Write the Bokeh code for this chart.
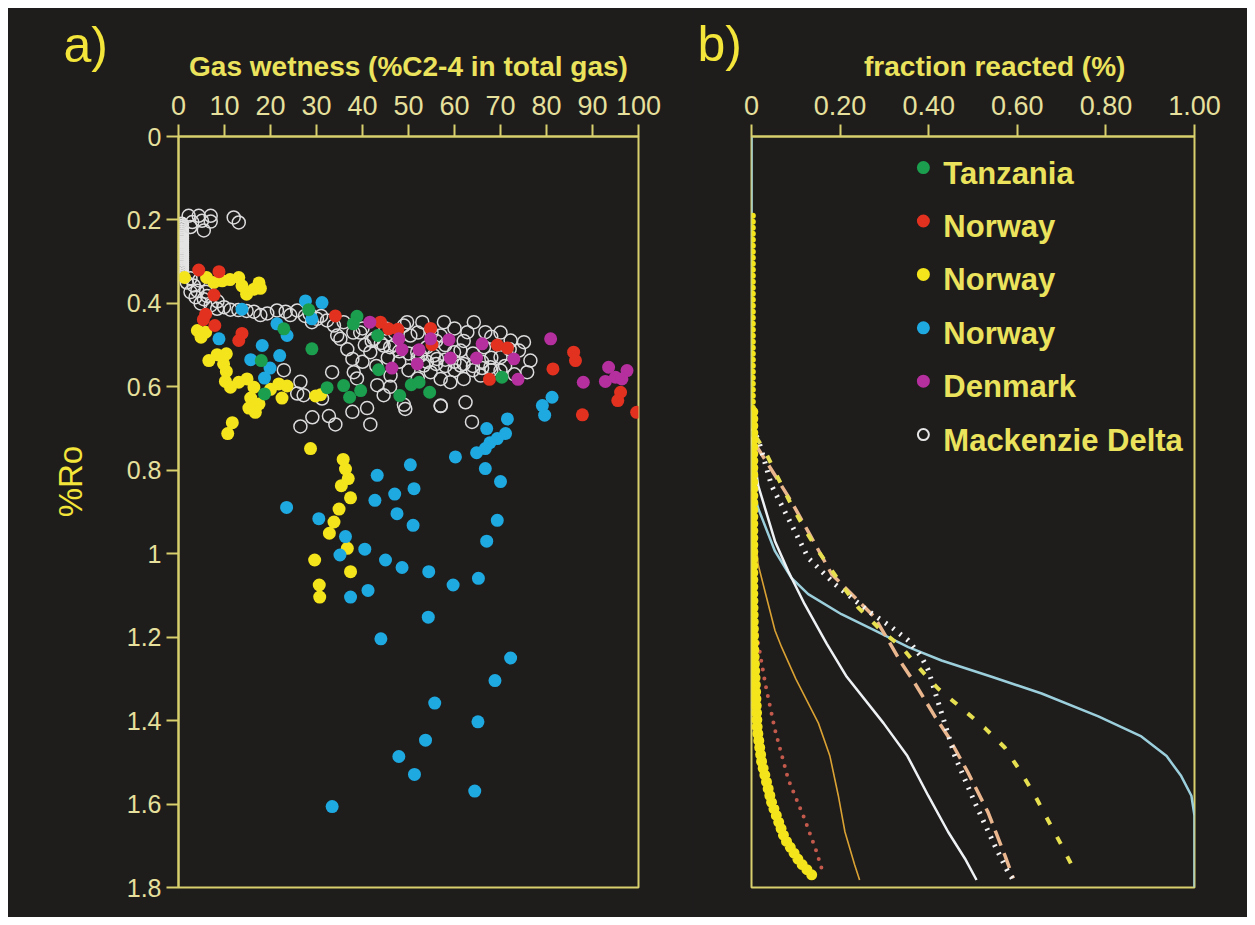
from bokeh.plotting import figure
from bokeh.models import Range1d, FixedTicker, Label
from bokeh.layouts import row
from bokeh.embed import file_html
from bokeh.resources import INLINE
from bokeh.core.properties import value
import math

# ---------------- data: panel a (gas wetness vs %Ro) ----------------
x_ticks_a = [0, 10, 20, 30, 40, 50, 60, 70, 80, 90, 100]
y_ticks = [0, 0.2, 0.4, 0.6, 0.8, 1.0, 1.2, 1.4, 1.6, 1.8]
y_tick_labels = ["0", "0.2", "0.4", "0.6", "0.8", "1", "1.2", "1.4", "1.6", "1.8"]

mack_x = [2.2, 4.4, 7.0, 3.0, 5.1, 7.0, 5.5, 12.0, 13.1, 2.6,
          1.8, 2.6, 4.5, 3.3, 2.6, 4.1, 6.0, 3.7, 5.5, 6.2, 4.8, 7.0, 8.5, 8.4, 9.9, 11.3, 13.0, 14.8,
          16.4, 17.8, 19.3, 21.4, 23.3, 24.3, 25.8, 27.5, 28.5, 31.0, 29.0, 30.1, 32.3, 33.8, 35.9, 34.5, 35.2,
          36.7, 37.8, 33.4, 38.1, 38.8, 22.9, 26.5, 25.8, 27.2, 31.2, 32.7, 26.5, 29.1, 34.1, 37.8, 41.0,
          41.7, 43.2, 44.6, 49.0, 57.0, 46.1, 41.7, 42.5, 44.6, 49.0, 50.4, 51.9, 53.3, 56.2, 57.7, 57.0,
          59.9, 61.3, 62.0, 59.1, 49.7, 53.0, 64.2, 66.7, 62.8, 72.2, 75.1, 74.0, 76.5, 75.8, 70.0, 67.8,
          70.0, 65.7, 57.0, 54.8, 62.4, 57.0, 63.8, 49.3, 52.6, 55.5, 61.3, 66.4, 39.5, 40.5, 45.5, 47.0,
          48.0, 50.0, 52.0, 46.0, 43.0, 40.0, 60.0, 62.0, 64.0, 68.0, 70.0, 72.0, 68.0, 66.0, 58.0, 56.0,
          54.0, 64.0, 60.0, 58.0, 71.0, 73.0, 42.0, 44.0, 46.0, 48.0, 50.0, 52.0, 54.0, 56.0, 58.0, 60.0,
          62.0, 64.0, 66.0, 68.0, 38.0, 40.0, 45.0, 47.0, 52.0, 55.0]
mack_y = [0.190, 0.190, 0.190, 0.205, 0.202, 0.204, 0.225, 0.194, 0.206, 0.217,
          0.350, 0.340, 0.345, 0.357, 0.373, 0.370, 0.372, 0.385, 0.390, 0.382, 0.400, 0.405, 0.395, 0.413,
          0.409, 0.415, 0.416, 0.418, 0.420, 0.428, 0.424, 0.417, 0.420, 0.428, 0.417, 0.430, 0.425, 0.430,
          0.445, 0.437, 0.441, 0.453, 0.445, 0.477, 0.485,
          0.510, 0.533, 0.565, 0.565, 0.580, 0.560, 0.588, 0.616, 0.620, 0.628, 0.670, 0.695, 0.673, 0.690,
          0.660, 0.651, 0.690, 0.596, 0.620, 0.643, 0.646, 0.573, 0.517, 0.485, 0.501, 0.453, 0.477, 0.517,
          0.549, 0.533, 0.445, 0.477, 0.517, 0.549, 0.581, 0.589, 0.445, 0.445, 0.445, 0.469, 0.469, 0.489,
          0.493, 0.513, 0.537, 0.565, 0.529, 0.553, 0.561, 0.573, 0.581, 0.565, 0.637, 0.645, 0.684, 0.653,
          0.525, 0.525, 0.513, 0.505, 0.470, 0.500, 0.530, 0.500, 0.540, 0.560, 0.580, 0.600, 0.550, 0.540,
          0.460, 0.490, 0.520, 0.480, 0.470, 0.510, 0.530, 0.540, 0.500, 0.490, 0.505, 0.560, 0.560, 0.550,
          0.550, 0.570, 0.490, 0.495, 0.505, 0.515, 0.520, 0.530, 0.540, 0.545, 0.535, 0.540, 0.545, 0.550,
          0.555, 0.560, 0.470, 0.460, 0.460, 0.470, 0.470, 0.470]
# stacked Mackenzie Delta samples near 0 % wetness
mack_stack_x = [0.7] * 23
mack_stack_y = [0.210, 0.215, 0.220, 0.225, 0.230, 0.235, 0.240, 0.245, 0.250, 0.255, 0.260, 0.265,
                0.270, 0.275, 0.280, 0.285, 0.290, 0.295, 0.300, 0.305, 0.310, 0.315, 0.320]

nor_yellow_x = [1.3, 6.1, 7.7, 9.5, 11.2, 13.1, 13.8, 14.8, 16.4, 17.5, 17.8,
                4.1, 5.9, 4.9, 6.6, 8.4, 10.4, 9.8, 10.4, 10.2, 11.3, 13.1, 14.9, 16.4, 15.7, 17.5, 15.3,
                16.7, 20.0, 21.8, 23.6, 22.5, 29.8, 30.9, 11.7, 10.7,
                28.7, 35.8, 36.3, 36.9, 35.4, 37.4, 34.9, 33.8, 32.8, 36.7, 29.6, 37.4, 30.6, 30.7]
nor_yellow_y = [0.338, 0.338, 0.350, 0.346, 0.343, 0.338, 0.358, 0.378, 0.366, 0.351, 0.364,
                0.465, 0.469, 0.481, 0.537, 0.523, 0.521, 0.545, 0.563, 0.587, 0.601, 0.589, 0.581, 0.601,
                0.627, 0.641, 0.651, 0.661, 0.606, 0.593, 0.598, 0.627, 0.622, 0.619, 0.686, 0.712,
                0.748, 0.774, 0.797, 0.820, 0.837, 0.866, 0.893, 0.924, 0.951, 0.987, 1.015, 1.043, 1.075, 1.104]

nor_red_x = [4.4, 8.8, 7.7, 5.9, 5.4, 7.9, 13.8, 13.1, 34.1, 43.9, 45.7, 47.7, 54.8, 55.1, 69.3, 71.5,
             67.6, 85.9, 86.3, 81.4, 96.1, 95.5, 87.8, 99.6]
nor_red_y = [0.320, 0.324, 0.380, 0.426, 0.439, 0.453, 0.472, 0.489, 0.430, 0.445, 0.461, 0.462, 0.460,
             0.499, 0.500, 0.507, 0.582, 0.517, 0.537, 0.557, 0.613, 0.633, 0.667, 0.661]

nor_blue_x = [27.6, 31.2, 13.8, 29.0, 21.4, 23.6, 8.8, 18.2, 22.0, 15.7, 19.9, 18.7,
              81.2, 79.1, 79.6, 71.5, 67.0, 71.1, 69.3, 67.7, 66.7, 64.8, 60.2,
              66.7, 70.0, 69.3, 67.0,
              23.5, 30.5, 36.3, 35.1, 40.5, 37.4, 41.2, 43.2, 42.7, 47.0, 50.4, 51.2, 47.5, 51.0, 45.0,
              48.6, 54.4, 59.7, 65.2,
              54.3, 44.0, 72.2, 68.8, 55.7, 65.1, 53.7, 47.9, 51.3, 64.4, 33.4]
nor_blue_y = [0.394, 0.398, 0.414, 0.437, 0.449, 0.477, 0.485, 0.501, 0.525, 0.535, 0.555, 0.579,
              0.625, 0.645, 0.668, 0.677, 0.700, 0.712, 0.724, 0.734, 0.748, 0.758, 0.768,
              0.796, 0.827, 0.920, 0.970,
              0.889, 0.916, 0.959, 1.003, 0.989, 1.104, 1.088, 0.812, 0.872, 0.857, 0.787, 0.844, 0.904,
              0.932, 1.015, 1.033, 1.043, 1.075, 1.059,
              1.152, 1.204, 1.250, 1.304, 1.358, 1.403, 1.447, 1.486, 1.529, 1.569, 1.606]

tanz_x = [28.3, 29.0, 38.8, 38.0, 18.0, 22.9, 43.3, 43.5, 18.7, 32.3, 35.9, 37.2, 39.6, 48.1, 50.6,
          52.3, 54.6, 70.3]
tanz_y = [0.415, 0.509, 0.431, 0.449, 0.537, 0.461, 0.477, 0.559, 0.617, 0.602, 0.597, 0.625, 0.609,
          0.621, 0.595, 0.589, 0.613, 0.577]

den_x = [41.6, 47.9, 48.6, 52.3, 54.8, 58.8, 59.1, 64.8, 51.9, 46.4, 66.0, 72.9, 73.8, 80.9, 88.0,
         93.5, 97.5, 92.8, 95.0, 96.4]
den_y = [0.445, 0.485, 0.511, 0.511, 0.485, 0.487, 0.531, 0.531, 0.545, 0.555, 0.497, 0.533, 0.582,
         0.485, 0.589, 0.553, 0.561, 0.587, 0.577, 0.581]

# ---------------- data: panel b (fraction reacted vs %Ro) ----------------
x_ticks_b = [0, 0.2, 0.4, 0.6, 0.8, 1.0]
x_tick_labels_b = ["0", "0.20", "0.40", "0.60", "0.80", "1.00"]

legend_names = ["Tanzania", "Norway", "Norway", "Norway", "Denmark", "Mackenzie Delta"]
legend_colors = ["#1b9e4e", "#e2321f", "#f3e41c", "#1ea9e1", "#b52f9e", None]

lblue_f = [0.0, 0.0, 0.005, 0.015, 0.053, 0.090, 0.128, 0.203, 0.278, 0.354, 0.429, 0.542, 0.655,
           0.783, 0.880, 0.937, 0.970, 0.993, 1.0, 1.0]
lblue_r = [0.0, 0.75, 0.85, 0.891, 0.994, 1.058, 1.097, 1.145, 1.184, 1.224, 1.256, 1.295, 1.335,
           1.390, 1.438, 1.485, 1.533, 1.580, 1.628, 1.8]

white_f = [0.0, 0.015, 0.053, 0.083, 0.120, 0.170, 0.215, 0.298, 0.352, 0.399, 0.444, 0.482, 0.508]
white_r = [0.72, 0.836, 0.970, 1.042, 1.121, 1.216, 1.295, 1.406, 1.485, 1.580, 1.667, 1.731, 1.782]

orange_f = [0.0, 0.015, 0.053, 0.068, 0.100, 0.151, 0.177, 0.196, 0.211, 0.233, 0.244]
orange_r = [0.85, 1.026, 1.184, 1.224, 1.300, 1.406, 1.485, 1.580, 1.667, 1.746, 1.782]

reddot_f = [0.005, 0.023, 0.034, 0.053, 0.083, 0.120, 0.147, 0.162]
reddot_r = [1.15, 1.263, 1.327, 1.422, 1.541, 1.636, 1.715, 1.767]

ydots_top_f = [0.003, 0.003, 0.003]
ydots_top_r = [0.19, 0.45, 0.66]
ydots_f = [0.003, 0.003, 0.003, 0.005, 0.013, 0.023, 0.045, 0.075, 0.109, 0.137]
ydots_r = [0.66, 0.90, 1.10, 1.224, 1.421, 1.500, 1.595, 1.683, 1.739, 1.771]

ydash_f = [0.01, 0.03, 0.068, 0.090, 0.128, 0.151, 0.203, 0.241, 0.293, 0.339, 0.376, 0.421, 0.474,
           0.527, 0.572, 0.609, 0.640, 0.670, 0.700, 0.735]
ydash_r = [0.72, 0.753, 0.836, 0.883, 0.955, 0.994, 1.073, 1.129, 1.184, 1.224, 1.271, 1.323, 1.370,
           1.418, 1.465, 1.525, 1.580, 1.640, 1.699, 1.772]

wdot_f = [0.0, 0.015, 0.045, 0.083, 0.128, 0.188, 0.263, 0.316, 0.354, 0.384, 0.399, 0.429, 0.459,
          0.504, 0.549, 0.579, 0.591]
wdot_r = [0.70, 0.725, 0.836, 0.915, 1.010, 1.073, 1.137, 1.176, 1.208, 1.248, 1.279, 1.382, 1.485,
          1.596, 1.699, 1.763, 1.782]

peach_f = [0.01, 0.053, 0.090, 0.128, 0.181, 0.278, 0.339, 0.369, 0.414, 0.444, 0.489, 0.534, 0.572, 0.591]
peach_r = [0.74, 0.812, 0.875, 0.947, 1.049, 1.152, 1.263, 1.311, 1.390, 1.438, 1.525, 1.620, 1.723, 1.778]

# ---------------- styles ----------------
BG = "#1f1c1c"
AX = "#d8d06c"
TICK_TXT = "#e6e09c"
TITLE_TXT = "#ece35c"
BRIGHT = "#f3e53a"
FONT = "Liberation Sans"


def style_axes(p, xsize, ysize):
    for ax in p.xaxis:
        ax.major_label_text_font_size = xsize
    for ax in p.yaxis:
        ax.major_label_text_font_size = ysize
    for ax in list(p.xaxis) + list(p.yaxis):
        ax.axis_line_color = AX
        ax.axis_line_width = 2
        ax.major_tick_line_color = AX
        ax.major_tick_line_width = 2
        ax.major_tick_out = 12
        ax.major_tick_in = 0
        ax.minor_tick_line_color = None
        ax.major_label_text_color = TICK_TXT
        ax.major_label_text_font = FONT
    p.xgrid.visible = False
    p.ygrid.visible = False
    p.background_fill_color = BG
    p.border_fill_color = BG
    p.outline_line_color = AX
    p.outline_line_width = 2


# ---------------- panel a ----------------
pa = figure(width=685, height=909, x_range=Range1d(0, 100), y_range=Range1d(1.8, 0),
            x_axis_location="above", output_backend="svg", toolbar_location=None,
            min_border_left=170, min_border_right=55, min_border_top=128, min_border_bottom=26)
style_axes(pa, "27px", "25px")
pa.xaxis.ticker = FixedTicker(ticks=x_ticks_a)
pa.yaxis.ticker = FixedTicker(ticks=y_ticks)
pa.yaxis.major_label_overrides = {t: l for t, l in zip(y_ticks, y_tick_labels)}
pa.yaxis.major_label_standoff = 5
pa.xaxis.major_label_standoff = 10
pa.xaxis.axis_label = "Gas wetness (%C2-4 in total gas)"
pa.xaxis.axis_label_text_font = FONT
pa.xaxis.axis_label_text_font_style = "bold"
pa.xaxis.axis_label_text_font_size = "28px"
pa.xaxis.axis_label_text_color = TITLE_TXT
pa.xaxis.axis_label_standoff = 11

MS = 13
pa.scatter(mack_stack_x, mack_stack_y, size=MS, fill_color=None, line_color="#e4e4e4", line_width=2)
pa.scatter(mack_x, mack_y, size=MS, fill_color=None, line_color="#dcdcdc", line_width=1.5)
pa.scatter(nor_yellow_x, nor_yellow_y, size=MS, fill_color=legend_colors[2], line_color=None)
pa.scatter(nor_red_x, nor_red_y, size=MS, fill_color=legend_colors[1], line_color=None)
pa.scatter(nor_blue_x, nor_blue_y, size=MS, fill_color=legend_colors[3], line_color=None)
pa.scatter(tanz_x, tanz_y, size=MS, fill_color=legend_colors[0], line_color=None)
pa.scatter(den_x, den_y, size=MS, fill_color=legend_colors[4], line_color=None)

# panel letter and y label, placed in side panels (not clipped), positioned in data units
pa.add_layout(Label(x=-25.0, y=-0.22, text="a)", text_font=FONT, text_font_size="50px",
                    text_color=BRIGHT, text_baseline="middle", text_align="left"), "right")
pa.add_layout(Label(x=-23.5, y=0.827, text="%Ro", text_font=FONT, text_font_size="33px",
                    text_color=BRIGHT, text_baseline="middle", text_align="center",
                    angle=math.pi / 2), "left")

# ---------------- panel b ----------------
pb = figure(width=554, height=909, x_range=Range1d(0, 1), y_range=Range1d(1.8, 0),
            x_axis_location="above", y_axis_location=None, output_backend="svg", toolbar_location=None,
            min_border_left=58, min_border_right=53, min_border_top=128, min_border_bottom=30)
style_axes(pb, "27px", "25px")
pb.xaxis.ticker = FixedTicker(ticks=x_ticks_b)
pb.xaxis.major_label_overrides = {t: l for t, l in zip(x_ticks_b, x_tick_labels_b)}
pb.xaxis.major_label_standoff = 10

pb.line(lblue_f, lblue_r, line_color="#9ccfdc", line_width=2.5)
pb.line(peach_f, peach_r, line_color="#eab68e", line_width=3.5, line_dash="16 8")
pb.line(wdot_f, wdot_r, line_color="#f4f4f4", line_width=5, line_dash="2 7")
pb.line(ydash_f, ydash_r, line_color="#e6e050", line_width=4, line_dash="8 14")
pb.line(white_f, white_r, line_color="#eef2f4", line_width=2.5)
pb.line(orange_f, orange_r, line_color="#d9a233", line_width=1.6)
pb.line(reddot_f, reddot_r, line_color="#c45a4c", line_width=4, line_dash="0 9", line_cap="round")
pb.line(ydots_top_f, ydots_top_r, line_color="#f3e41c", line_width=6, line_dash="0 6", line_cap="round")
pb.line(ydots_f, ydots_r, line_color="#f3e41c", line_width=11, line_dash="0 7", line_cap="round")

# legend (drawn in panel b)
leg_fx = 0.388
leg_tx = 0.433
leg_y0 = 0.0745
leg_step = 0.128
leg_my = [leg_y0 + i * leg_step for i in range(len(legend_names))]
leg_ty = [v + 0.013 for v in leg_my]
for i, c in enumerate(legend_colors):
    if c is None:
        pb.scatter([leg_fx], [leg_my[i]], size=11, fill_color=None, line_color="#e6e6e6", line_width=2)
    else:
        pb.scatter([leg_fx], [leg_my[i]], size=13, fill_color=c, line_color=None)
pb.text([leg_tx] * len(legend_names), leg_ty, text=legend_names, text_font=value(FONT),
        text_font_style="bold", text_font_size="31px", text_color=TITLE_TXT,
        text_baseline="middle", text_align="left")

pb.add_layout(Label(x=-0.122, y=-0.221, text="b)", text_font=FONT, text_font_size="50px",
                    text_color=BRIGHT, text_baseline="middle", text_align="left"), "left")
pb.add_layout(Label(x=0.549, y=-0.168, text="fraction reacted (%)", text_font=FONT,
                    text_font_style="bold", text_font_size="28px", text_color=TITLE_TXT,
                    text_baseline="middle", text_align="center"), "above")

layout = row(pa, pb, margin=(8, 8, 8, 8), styles={"background-color": BG})
open("out.html", "w").write(file_html(layout, INLINE))
